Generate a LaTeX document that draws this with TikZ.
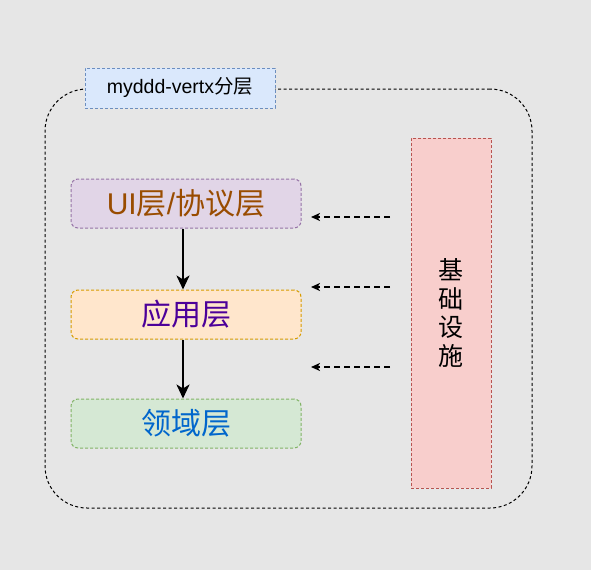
\documentclass[tikz,border=0pt]{standalone}
\usepackage{fontspec}
\setmainfont{Liberation Sans}
\newfontfamily\cjk{Noto Sans CJK SC}
\usetikzlibrary{positioning, arrows.meta}
\definecolor{bggray}{HTML}{E6E6E6}
\definecolor{titlefill}{HTML}{DAE8FC}
\definecolor{titleline}{HTML}{6C8EBF}
\definecolor{uifill}{HTML}{E1D5E7}
\definecolor{uiline}{HTML}{9673A6}
\definecolor{uitext}{HTML}{994C00}
\definecolor{appfill}{HTML}{FFE6CC}
\definecolor{appline}{HTML}{D79B00}
\definecolor{apptext}{HTML}{4C0099}
\definecolor{domfill}{HTML}{D5E8D4}
\definecolor{domline}{HTML}{82B366}
\definecolor{domtext}{HTML}{0066CC}
\definecolor{infrafill}{HTML}{F8CECC}
\definecolor{infraline}{HTML}{B85450}

\begin{document}
\begin{tikzpicture}[x=1pt, y=-1pt,
        every node/.style={line width=1pt, dash pattern=on 3pt off 2pt},
        layer/.style={draw, rounded corners=7pt, minimum width=230pt, minimum height=49pt, inner sep=0pt, font=\cjk\fontsize{30}{34}\selectfont},
        arrow/.style={-{Stealth[length=14pt, width=13pt, inset=4pt]}, line width=2.6pt},
        deparrow/.style={-{Stealth[length=9pt, width=8pt, inset=2.5pt]}, line width=1.8pt, dash pattern=on 6pt off 4pt}
    ]
    \fill[bggray] (0,0) rectangle (591,570);

    % Nodes
    \node[draw, dash pattern=on 3pt off 2.5pt, rounded corners=42pt, minimum width=487pt, minimum height=419pt] (frame) at (288.5,298.5) {};
    \node[draw=titleline, fill=titlefill, minimum width=190pt, minimum height=40pt, inner sep=0pt, font=\fontsize{19.5}{22}\selectfont] (title) at (180,88) {myddd-vertx{\cjk 分层}};

    \node[layer, draw=uiline, fill=uifill, text=uitext] (ui) at (186,203.5) {{\rmfamily UI}层{\rmfamily /}协议层};
    \node[layer, draw=appline, fill=appfill, text=apptext, below=61pt of ui] (app) {应用层};
    \node[layer, draw=domline, fill=domfill, text=domtext, below=59pt of app] (domain) {领域层};

    \node[draw=infraline, fill=infrafill, minimum width=80pt, minimum height=350pt, align=center, font=\cjk\fontsize{25}{28.5}\selectfont] (infra) at (451,313) {基\\础\\设\\施};

    \coordinate (from1) at (390,217);
    \coordinate (to1) at (311,217);
    \coordinate (from2) at (390,287);
    \coordinate (to2) at (311,287);
    \coordinate (from3) at (390,367);
    \coordinate (to3) at (311,367);

    % Arrows
    \draw[arrow] ([xshift=-3pt]ui.south) -- ([xshift=-3pt]app.north);
    \draw[arrow] ([xshift=-3pt]app.south) -- ([xshift=-3pt]domain.north);
    \draw[deparrow] (from1) -- (to1);
    \draw[deparrow] (from2) -- (to2);
    \draw[deparrow] (from3) -- (to3);

\end{tikzpicture}
\end{document}
